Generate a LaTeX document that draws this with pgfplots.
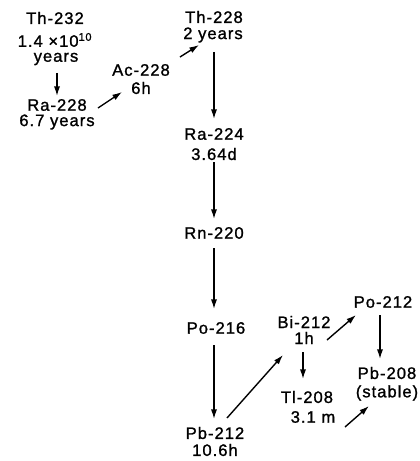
\documentclass[border=0pt]{standalone}
\usepackage{pgfplots}
\pgfplotsset{compat=1.18}
\usetikzlibrary{arrows.meta}
\usepackage{fontspec}
\setmainfont[LetterSpace=6,FakeBold=1.2]{Liberation Sans}
\begin{document}
\begin{tikzpicture}
\begin{axis}[
    scale only axis, width=4.2in, height=4.61in,
    xmin=0, xmax=420, ymin=0, ymax=461, y dir=reverse,
    hide axis, clip=false,
    arr/.style={black, line width=1pt, -{Latex[length=7pt,width=4.5pt]}},
]
% frame of the picture
\addplot[draw=none] coordinates {(0,0) (420,461)};
% labels, one point per text line
\addplot[only marks, mark=none, point meta=explicit symbolic,
    nodes near coords={\pgfplotspointmeta},
    every node near coord/.style={anchor=center, inner sep=0pt, font=\fontsize{12}{13}\selectfont}]
coordinates {
    (55,18) [Th-232]
    (55,40) [1.4 ×10\textsuperscript{10}]
    (56,59) [years]
    (57,105) [Ra-228]
    (57,122) [6.7 years]
    (141,70) [Ac-228]
    (141,88) [6h]
    (214,17) [Th-228]
    (213,35) [2 years]
    (214,134) [Ra-224]
    (214,154) [3.64d]
    (214,233) [Rn-220]
    (216,328) [Po-216]
    (215,433) [Pb-212]
    (215,450) [10.6h]
    (304,322) [Bi-212]
    (304,338) [1h]
    (307,397) [Tl-208]
    (313,417) [3.1 m]
    (383,302) [Po-212]
    (387,373) [Pb-208]
    (387,393) [(stable)]
};
% decay arrows
\addplot[arr] coordinates {(57,73) (57,96)};
\addplot[arr] coordinates {(98,108) (122,92)};
\addplot[arr] coordinates {(180,57) (199,45)};
\addplot[arr] coordinates {(214,52) (214,119)};
\addplot[arr] coordinates {(214,162) (214,219)};
\addplot[arr] coordinates {(214,248) (214,309)};
\addplot[arr] coordinates {(214,345) (214,419)};
\addplot[arr] coordinates {(227,418) (283,355)};
\addplot[arr] coordinates {(303,352) (303,379)};
\addplot[arr] coordinates {(327,340) (356,315)};
\addplot[arr] coordinates {(380,315) (380,359)};
\addplot[arr] coordinates {(345,427) (369,406)};
\end{axis}
\end{tikzpicture}
\end{document}
